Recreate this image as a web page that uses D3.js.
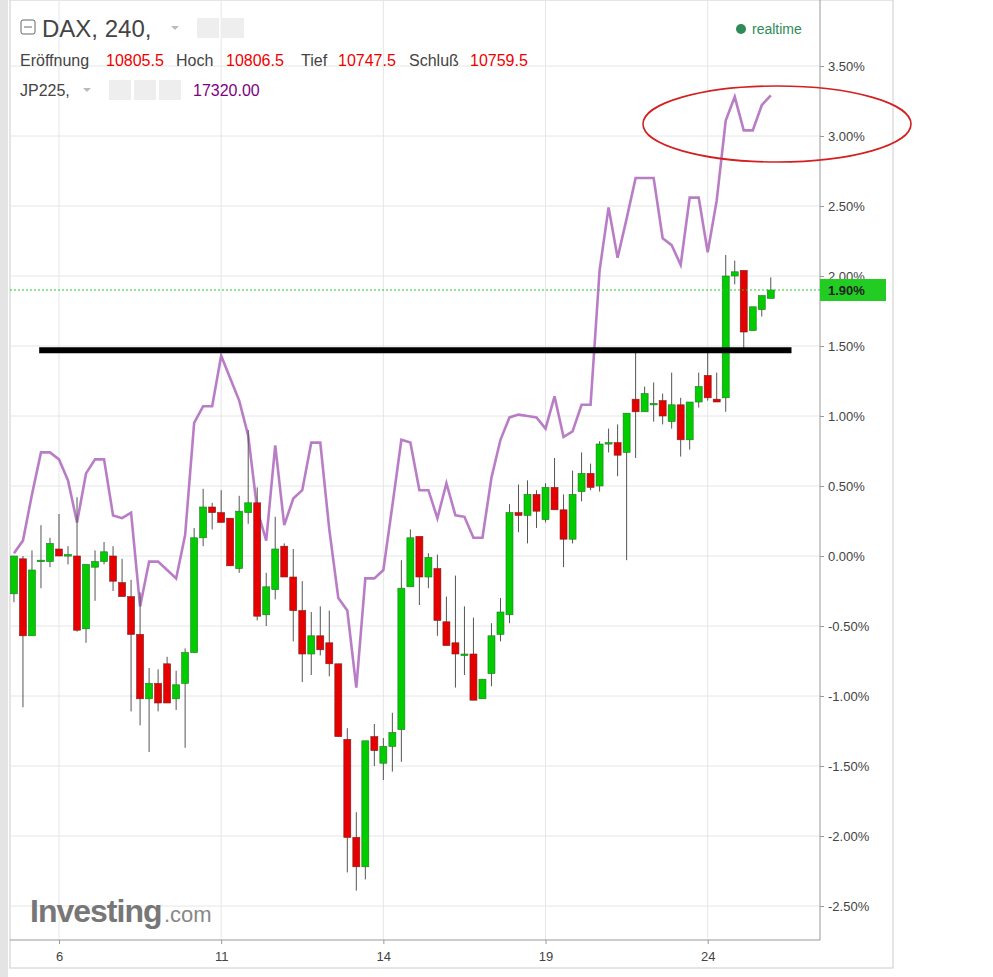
<!DOCTYPE html>
<html><head><meta charset="utf-8">
<script src="https://cdn.jsdelivr.net/npm/d3@7/dist/d3.min.js"></script>
<style>body{margin:0;background:#fff;font-family:Arial,"Liberation Sans",sans-serif}</style>
</head><body><svg id="c" width="993" height="977"></svg>
<script>
// DAX 240-min candles, % change: [open, high, low, close]
const daxOpen  = [-0.27,-0.02,-0.57,-0.03,-0.04,0.05,0.01,0.00,-0.52,-0.08,-0.04,0.00,-0.19,-0.29,-0.56,-1.02,-0.91,-0.77,-1.02,-0.91,-0.69,0.13,0.35,0.31,0.27,-0.09,0.31,0.38,-0.42,-0.24,0.07,-0.15,-0.39,-0.70,-0.57,-0.62,-0.77,-1.31,-2.01,-2.22,-1.29,-1.48,-1.36,-1.24,-0.22,0.14,-0.15,-0.09,-0.47,-0.62,-0.70,-0.70,-1.02,-0.84,-0.56,-0.42,0.31,0.29,0.44,0.26,0.49,0.33,0.12,0.46,0.59,0.50,0.81,0.81,0.74,1.12,1.03,1.09,1.11,0.96,1.08,0.83,1.10,1.29,1.12,1.13,2.00,2.04,1.61,1.76,1.84];
const daxHigh  = [0.00,0.00,0.04,0.22,0.13,0.30,0.07,0.42,-0.06,0.04,0.10,0.07,-0.02,-0.17,-0.26,-0.80,-0.81,-0.72,-0.82,-0.66,0.20,0.48,0.38,0.47,0.27,0.43,0.90,0.49,-0.12,0.28,0.09,0.05,-0.18,-0.40,-0.36,-0.39,-0.77,-1.23,-1.83,-1.32,-1.20,-1.30,-1.12,-0.03,0.19,0.14,0.02,0.01,-0.29,-0.14,-0.36,-0.44,-0.88,-0.48,-0.30,0.37,0.51,0.54,0.47,0.52,0.70,0.44,0.61,0.74,0.66,0.82,0.91,0.94,1.02,1.45,1.21,1.24,1.16,1.31,1.13,1.10,1.31,1.45,1.31,2.15,2.11,2.04,1.78,1.86,1.99];
const daxLow   = [-0.33,-1.08,-0.57,-0.23,-0.08,0.00,-0.06,-0.54,-0.62,-0.32,-0.06,-0.25,-0.29,-1.11,-1.21,-1.40,-1.11,-1.05,-1.10,-1.37,-0.69,0.07,0.19,0.24,-0.07,-0.12,0.23,-0.46,-0.50,-0.31,-0.15,-0.61,-0.90,-0.85,-0.71,-0.86,-1.29,-2.26,-2.39,-2.31,-1.50,-1.60,-1.54,-1.47,-0.22,-0.35,-0.23,-0.57,-0.64,-0.94,-0.85,-1.03,-1.02,-0.93,-0.61,-0.48,0.17,0.09,0.20,0.24,0.33,-0.08,0.09,0.39,0.47,0.46,0.74,0.57,-0.03,0.70,1.03,0.96,0.94,0.91,0.71,0.76,1.06,1.11,1.10,1.03,1.94,1.48,1.61,1.71,1.84];
const daxClose = [0.00,-0.57,-0.10,-0.03,0.09,0.00,0.01,-0.53,-0.06,-0.04,0.03,-0.18,-0.29,-0.56,-1.02,-0.91,-1.05,-1.05,-0.92,-0.69,0.13,0.35,0.31,0.24,-0.07,0.32,0.38,-0.43,-0.22,0.05,-0.15,-0.39,-0.70,-0.57,-0.67,-0.77,-1.29,-2.01,-2.22,-1.32,-1.39,-1.36,-1.26,-0.23,0.13,-0.15,-0.01,-0.46,-0.64,-0.70,-0.70,-1.03,-0.88,-0.57,-0.40,0.31,0.29,0.44,0.32,0.49,0.33,0.12,0.44,0.59,0.49,0.80,0.81,0.72,1.02,1.03,1.16,1.09,1.00,1.08,0.83,1.10,1.21,1.13,1.10,2.00,2.03,1.60,1.78,1.86,1.90];
// JP225 % change, one value per candle
const jp225 = [0.02,0.11,0.44,0.74,0.74,0.69,0.54,0.24,0.59,0.69,0.69,0.29,0.27,0.31,-0.36,-0.04,-0.04,-0.10,-0.16,0.15,0.95,1.07,1.07,1.43,1.27,1.11,0.86,0.33,0.11,0.79,0.22,0.41,0.47,0.81,0.81,0.19,-0.30,-0.39,-0.94,-0.16,-0.16,-0.10,0.36,0.83,0.81,0.47,0.47,0.27,0.52,0.29,0.28,0.13,0.13,0.56,0.83,0.99,1.01,1.00,0.99,0.91,1.14,0.85,0.89,1.08,1.08,2.04,2.49,2.13,2.41,2.70,2.70,2.70,2.27,2.22,2.08,2.56,2.56,2.17,2.54,3.11,3.28,3.04,3.04,3.22,3.29];
const xTickIdx = [5,23,41,59,77];
const xTickLabels = ["6","11","14","19","24"];
const yTicks = [-2.5,-2,-1.5,-1,-0.5,0,0.5,1,1.5,2,2.5,3,3.5];
const lastValue = 1.90, resistance = 1.47;

const svg = d3.select("#c");
const L=10, R=820, T=0, B=940;
const x = d3.scaleLinear().domain([5,77]).range([59,707.7]);
const y = d3.scaleLinear().domain([0,0.5]).range([556,486]);
const idx = d3.range(daxOpen.length);

svg.append("rect").attr("x",L).attr("y",0).attr("width",893-L).attr("height",968).attr("fill","#fff").attr("stroke","#ccc");
svg.append("rect").attr("x",0).attr("y",0).attr("width",8).attr("height",977).attr("fill","#e4e4e4");
const g = svg.append("g");
g.selectAll(".hg").data(yTicks).join("line").attr("x1",L).attr("x2",R).attr("y1",d=>y(d)).attr("y2",d=>y(d)).attr("stroke","#e6e6e6");
g.selectAll(".vg").data(xTickIdx).join("line").attr("x1",d=>x(d)).attr("x2",d=>x(d)).attr("y1",T).attr("y2",B).attr("stroke","#e6e6e6");
svg.append("line").attr("x1",R).attr("x2",R).attr("y1",0).attr("y2",B).attr("stroke","#999");
svg.append("line").attr("x1",L).attr("x2",R).attr("y1",B).attr("y2",B).attr("stroke","#999");

const ya = svg.append("g").attr("transform",`translate(${R},0)`).call(d3.axisRight(y).tickValues(yTicks).tickSize(4).tickFormat(d=>d.toFixed(2)+"%"));
ya.select(".domain").remove();
ya.selectAll("text").attr("font-size",13).attr("fill","#444").attr("x",8).attr("font-family","Arial");
ya.selectAll("line").attr("stroke","#999");
const xa = svg.append("g").attr("transform",`translate(0,${B})`).call(d3.axisBottom(x).tickValues(xTickIdx).tickSize(4).tickFormat((d,i)=>xTickLabels[i]));
xa.select(".domain").remove();
xa.selectAll("text").attr("font-size",13).attr("fill","#444").attr("dy","1.1em").attr("font-family","Arial");
xa.selectAll("line").attr("stroke","#999");

svg.append("text").attr("x",30).attr("y",922).attr("font-size",32).attr("font-weight","bold").attr("fill","#777").attr("letter-spacing",-1).text("Investing");
svg.append("text").attr("x",164).attr("y",922).attr("font-size",22).attr("fill","#888").text(".com");

svg.append("path").datum(idx).attr("fill","none").attr("stroke","#b16fc0").attr("stroke-width",2.6).attr("opacity",0.9)
  .attr("d",d3.line().x(i=>x(i)).y(i=>y(jp225[i])));

const cg = svg.append("g");
cg.selectAll(".w").data(idx).join("line").attr("x1",i=>x(i)).attr("x2",i=>x(i)).attr("y1",i=>y(daxHigh[i])).attr("y2",i=>y(daxLow[i])).attr("stroke","#555").attr("stroke-width",1);
cg.selectAll(".b").data(idx).join("rect").attr("x",i=>x(i)-3.5).attr("width",7)
  .attr("y",i=>y(Math.max(daxOpen[i],daxClose[i]))).attr("height",i=>Math.max(1.5,Math.abs(y(daxOpen[i])-y(daxClose[i]))))
  .attr("fill",i=>daxClose[i]>=daxOpen[i]?"#00cc00":"#e60000").attr("stroke",i=>daxClose[i]>=daxOpen[i]?"#227722":"#772222").attr("stroke-width",0.6);

svg.append("line").attr("x1",x(2.8)).attr("x2",x(86.3)).attr("y1",y(resistance)).attr("y2",y(resistance)).attr("stroke","#000").attr("stroke-width",6);
svg.append("line").attr("x1",L).attr("x2",R).attr("y1",y(lastValue)).attr("y2",y(lastValue)).attr("stroke","#22cc22").attr("stroke-dasharray","2,2");
svg.append("rect").attr("x",R).attr("y",y(lastValue)-11).attr("width",66).attr("height",22).attr("fill","#22cc22");
svg.append("text").attr("x",R+8).attr("y",y(lastValue)+5).attr("font-size",13).attr("font-weight","bold").attr("fill","#222").text(lastValue.toFixed(2)+"%");
svg.append("ellipse").attr("cx",777).attr("cy",124).attr("rx",134).attr("ry",38).attr("fill","none").attr("stroke","#d42020").attr("stroke-width",1.6);

svg.append("rect").attr("x",21).attr("y",20).attr("width",14).attr("height",14).attr("fill","none").attr("stroke","#666").attr("rx",2);
svg.append("line").attr("x1",24).attr("x2",32).attr("y1",27).attr("y2",27).attr("stroke","#666");
svg.append("text").attr("x",42).attr("y",37).attr("font-size",24).attr("fill","#444").text("DAX, 240,");
svg.append("path").attr("d","M171 26 l8 0 l-4 4z").attr("fill","#bbb");
[[197,18],[222,18]].forEach(p=>svg.append("rect").attr("x",p[0]).attr("y",p[1]).attr("width",22).attr("height",20).attr("fill","#eee"));
const hdr = [["Eröffnung",20,"#444"],["10805.5",106,"#e00"],["Hoch",176,"#444"],["10806.5",226,"#e00"],["Tief",301,"#444"],["10747.5",338,"#e00"],["Schluß",409,"#444"],["10759.5",470,"#e00"]];
hdr.forEach(s=>svg.append("text").attr("x",s[1]).attr("y",66).attr("font-size",16).attr("fill",s[2]).text(s[0]));
svg.append("text").attr("x",20).attr("y",96).attr("font-size",16).attr("fill","#444").text("JP225,");
svg.append("path").attr("d","M83 88 l8 0 l-4 4z").attr("fill","#bbb");
[109,134,159].forEach(px=>svg.append("rect").attr("x",px).attr("y",80).attr("width",22).attr("height",20).attr("fill","#eee"));
svg.append("text").attr("x",193).attr("y",96).attr("font-size",16).attr("fill","#800080").text("17320.00");
svg.append("circle").attr("cx",741).attr("cy",29).attr("r",5).attr("fill","#2e8b57");
svg.append("text").attr("x",752).attr("y",34).attr("font-size",14).attr("fill","#2e8b57").text("realtime");
</script></body></html>
